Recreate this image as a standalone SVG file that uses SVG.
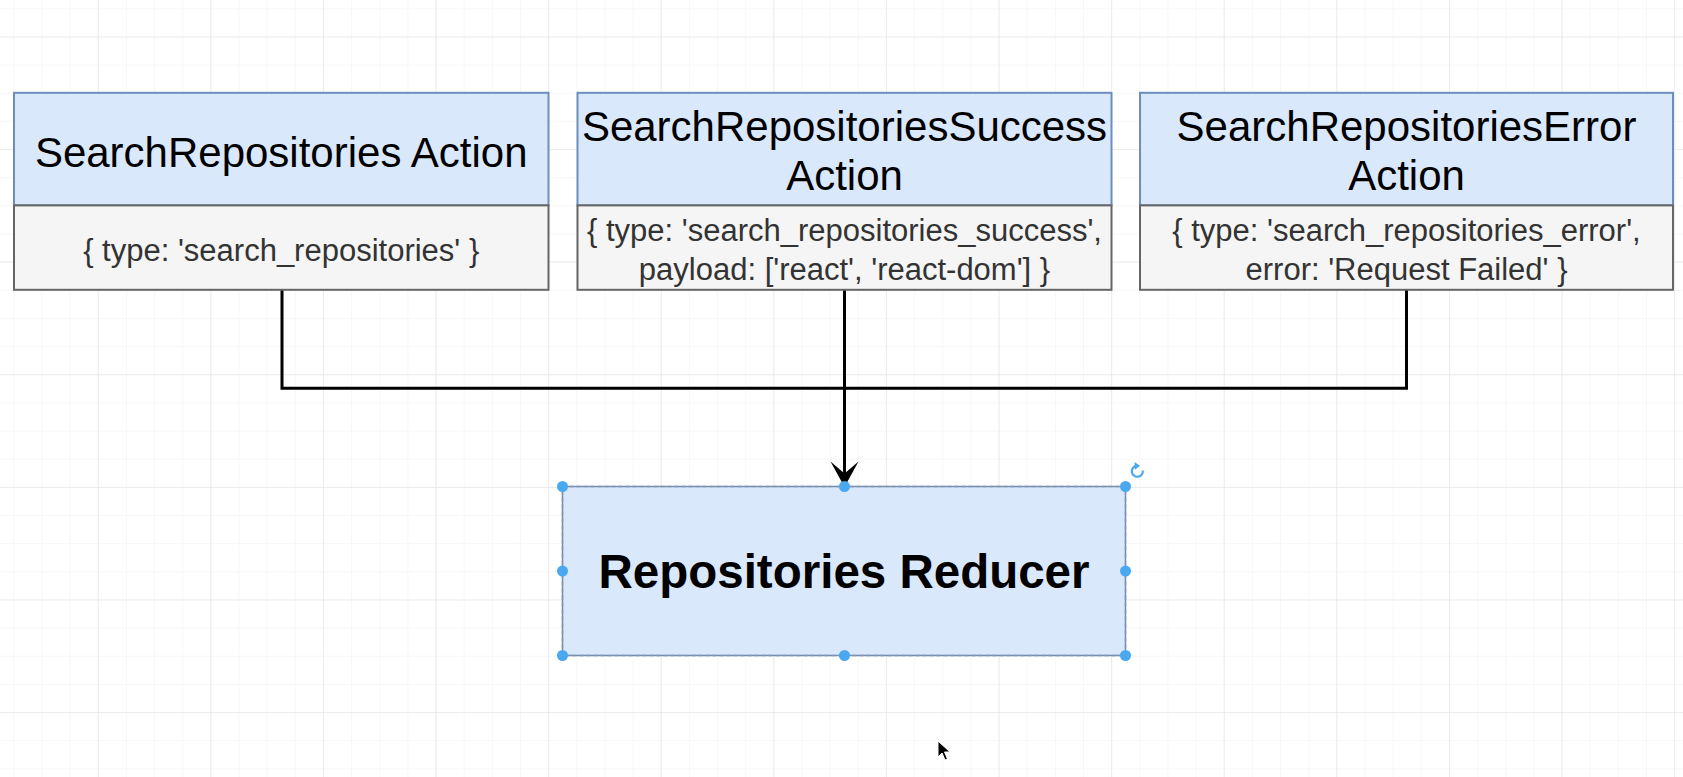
<svg xmlns="http://www.w3.org/2000/svg" width="1683" height="777" viewBox="0 0 1683 777">
<defs>
<pattern id="gminor" x="13.3" y="8.3" width="28.15" height="28.15" patternUnits="userSpaceOnUse">
<path d="M0 0 V28.15 M0 0 H28.15" fill="none" stroke="#f0f0f0" stroke-width="1"/>
</pattern>
<pattern id="gmajor" x="-14.85" y="36.45" width="112.6" height="112.6" patternUnits="userSpaceOnUse">
<path d="M0 0 V112.6 M0 0 H112.6" fill="none" stroke="#e0e0e0" stroke-width="1"/>
</pattern>
<style>
.hdr{fill:#dae8fc;stroke:#6c8ebf;stroke-width:2}
.body{fill:#f5f5f5;stroke:#666666;stroke-width:2}
.ht{font-family:"Liberation Sans",Arial,sans-serif;font-size:42px;fill:#000;text-anchor:middle}
.bt{font-family:"Liberation Sans",Arial,sans-serif;font-size:31px;fill:#333;text-anchor:middle}
.rt{font-family:"Liberation Sans",Arial,sans-serif;font-size:47.5px;font-weight:bold;fill:#000;text-anchor:middle}
.conn{fill:none;stroke:#000;stroke-width:3}
.hdl{fill:#4aa8f0}
</style>
</defs>
<rect width="1683" height="777" fill="#ffffff"/>
<rect width="1683" height="777" fill="url(#gminor)"/>
<rect width="1683" height="777" fill="url(#gmajor)"/>

<g id="connectors">
<path class="conn" d="M282 289.8 V388.3 H844.5"/>
<path class="conn" d="M1406.5 289.8 V388.3 H844.5"/>
<path class="conn" d="M844.5 289.8 V475"/>
<path d="M844.5 487 L830.5 461.5 L844.5 473.5 L858.5 461.5 Z" fill="#000"/>
</g>

<g id="node-search">
<rect class="hdr" x="14" y="92.8" width="534.5" height="112.6"/>
<rect class="body" x="14" y="205.4" width="534.5" height="84.4"/>
<text class="ht" x="281.2" y="167">SearchRepositories Action</text>
<text class="bt" x="281.2" y="261">{ type: 'search_repositories' }</text>
</g>

<g id="node-success">
<rect class="hdr" x="577.5" y="92.8" width="534" height="112.6"/>
<rect class="body" x="577.5" y="205.4" width="534" height="84.4"/>
<text class="ht" x="844.5" y="141">SearchRepositoriesSuccess</text>
<text class="ht" x="844.5" y="190">Action</text>
<text class="bt" x="844.5" y="241">{ type: 'search_repositories_success',</text>
<text class="bt" x="844.5" y="279.5">payload: ['react', 'react-dom'] }</text>
</g>

<g id="node-error">
<rect class="hdr" x="1140" y="92.8" width="533" height="112.6"/>
<rect class="body" x="1140" y="205.4" width="533" height="84.4"/>
<text class="ht" x="1406.5" y="141">SearchRepositoriesError</text>
<text class="ht" x="1406.5" y="190">Action</text>
<text class="bt" x="1406.5" y="241">{ type: 'search_repositories_error',</text>
<text class="bt" x="1406.5" y="279.5">error: 'Request Failed' }</text>
</g>

<g id="node-reducer">
<rect x="562.5" y="486.5" width="563" height="169" fill="#dae8fc" stroke="#6c8ebf" stroke-width="1.5"/>
<rect x="562.5" y="486.5" width="563" height="169" fill="none" stroke="#8894a8" stroke-width="1.5" stroke-dasharray="4 3"/>
<text class="rt" x="844" y="588">Repositories Reducer</text>
<circle class="hdl" cx="562.5" cy="486.5" r="5.5"/>
<circle class="hdl" cx="844.5" cy="486.5" r="5.5"/>
<circle class="hdl" cx="1125.5" cy="486.5" r="5.5"/>
<circle class="hdl" cx="562.5" cy="571" r="5.5"/>
<circle class="hdl" cx="1125.5" cy="571" r="5.5"/>
<circle class="hdl" cx="562.5" cy="655.5" r="5.5"/>
<circle class="hdl" cx="844.5" cy="655.5" r="5.5"/>
<circle class="hdl" cx="1125.5" cy="655.5" r="5.5"/>
<path d="M1142.8 470.5 A5.5 5.5 0 1 1 1136.5 465.8" fill="none" stroke="#4aa8f0" stroke-width="2.2"/>
<path d="M1134.5 462 L1140 465.8 L1135 469.8 Z" fill="#4aa8f0"/>
</g>

<path d="M938 741 L938 757 L942 753 L945 760 L947.5 759 L944.5 752 L950 752 Z" fill="#000" stroke="#fff" stroke-width="1"/>
</svg>
